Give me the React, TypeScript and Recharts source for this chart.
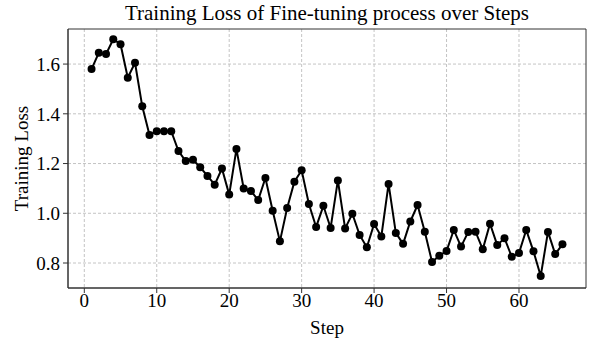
import React from 'react';
import {
  LineChart,
  Line,
  XAxis,
  YAxis,
  CartesianGrid,
  ReferenceArea,
} from 'recharts';

// values, one per step (1..66)
const steps: number[] = Array.from({ length: 66 }, (_, i) => i + 1);

const lossValues: number[] = [
  1.58, 1.645, 1.64, 1.70, 1.68, 1.545, 1.605, 1.43, 1.315, 1.33,
  1.33, 1.33, 1.25, 1.21, 1.215, 1.185, 1.15, 1.115, 1.18, 1.075,
  1.258, 1.10, 1.09, 1.053, 1.142, 1.01, 0.887, 1.021, 1.127, 1.173,
  1.037, 0.945, 1.03, 0.941, 1.132, 0.939, 0.998, 0.913, 0.863, 0.957,
  0.907, 1.118, 0.921, 0.877, 0.967, 1.033, 0.926, 0.804, 0.829, 0.848,
  0.933, 0.866, 0.925, 0.926, 0.855, 0.958, 0.872, 0.90, 0.825, 0.84,
  0.933, 0.847, 0.748, 0.925, 0.836, 0.875,
];

const xTicks = [0, 10, 20, 30, 40, 50, 60];
const yTicks = [0.8, 1.0, 1.2, 1.4, 1.6];

const X_DOMAIN: [number, number] = [-2.25, 69.25];
const Y_DOMAIN: [number, number] = [0.6995, 1.741];

const data = steps.map((s, i) => ({ step: s, loss: lossValues[i] }));

const FONT = '"Liberation Serif", "Times New Roman", serif';

export default function App() {
  return (
    <div style={{ position: 'absolute', left: 0, top: 0, width: 594, height: 344, background: '#fff' }}>
      <div
        style={{
          position: 'absolute',
          left: 68,
          width: 518,
          top: 0,
          textAlign: 'center',
          fontFamily: FONT,
          fontSize: 21,
          lineHeight: '26px',
          color: '#000',
        }}
      >
        Training Loss of Fine-tuning process over Steps
      </div>
      <LineChart
        width={594}
        height={344}
        data={data}
        margin={{ top: 29, right: 8, bottom: 0, left: 8 }}
      >
        <CartesianGrid
          stroke="#c4c4c4"
          strokeDasharray="3 2"
          horizontalValues={yTicks}
          verticalValues={xTicks}
        />
        <XAxis
          dataKey="step"
          type="number"
          domain={X_DOMAIN}
          ticks={xTicks}
          allowDataOverflow
          height={56}
          tickSize={5}
          tickMargin={1}
          axisLine={{ stroke: '#333' }}
          tickLine={{ stroke: '#333' }}
          tick={{ fill: '#000', fontSize: 19, fontFamily: FONT }}
          label={{ value: 'Step', position: 'insideBottom', offset: 10, fill: '#000', fontSize: 19, fontFamily: FONT }}
        />
        <YAxis
          type="number"
          domain={Y_DOMAIN}
          ticks={yTicks}
          allowDataOverflow
          width={60}
          tickSize={5}
          tickMargin={3}
          tickFormatter={(v: number) => v.toFixed(1)}
          axisLine={{ stroke: '#333' }}
          tickLine={{ stroke: '#333' }}
          tick={{ fill: '#000', fontSize: 19, fontFamily: FONT }}
          label={{ value: 'Training Loss', angle: -90, position: 'center', dx: -17, fill: '#000', fontSize: 19, fontFamily: FONT }}
        />
        <ReferenceArea
          x1={X_DOMAIN[0]}
          x2={X_DOMAIN[1]}
          y1={Y_DOMAIN[0]}
          y2={Y_DOMAIN[1]}
          fill="none"
          stroke="#333"
          strokeWidth={1}
        />
        <Line
          type="linear"
          dataKey="loss"
          stroke="#000"
          strokeWidth={2}
          dot={{ r: 4, fill: '#000', stroke: '#000', strokeWidth: 0 }}
          isAnimationActive={false}
        />
      </LineChart>
    </div>
  );
}
